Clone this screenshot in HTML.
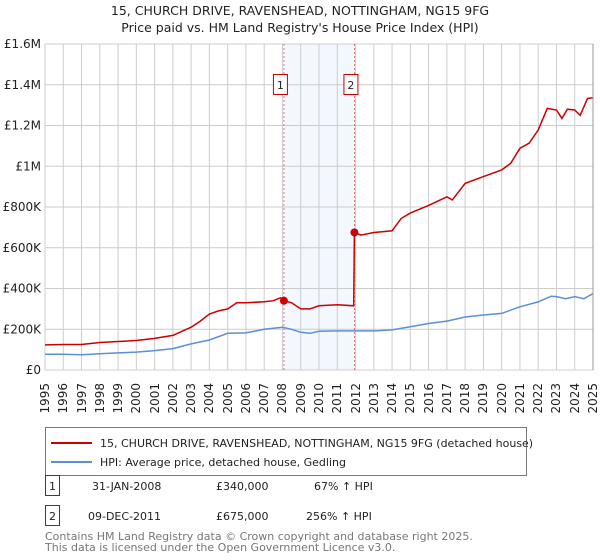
<!DOCTYPE html>
<html><head><meta charset="utf-8"><style>
body{margin:0;background:#fff;font-family:"Liberation Sans","DejaVu Sans",sans-serif;position:relative;width:600px;height:560px;overflow:hidden;}
svg text{font-family:"DejaVu Sans","Liberation Sans",sans-serif;}
.xl{position:absolute;top:383px;width:40px;height:14px;font:12px "DejaVu Sans","Liberation Sans",sans-serif;color:#222;line-height:14px;text-align:right;transform-origin:0 0;white-space:nowrap;}
</style></head><body>
<svg id="c" width="600" height="560" xmlns="http://www.w3.org/2000/svg" style="position:absolute;left:0;top:0">
<text x="300" y="15" text-anchor="middle" font-size="12.5" fill="#222">15, CHURCH DRIVE, RAVENSHEAD, NOTTINGHAM, NG15 9FG</text>
<text x="300" y="32" text-anchor="middle" font-size="12.5" fill="#222">Price paid vs. HM Land Registry's House Price Index (HPI)</text>
<g id="grid"></g><g id="marks"></g>
<g>
<rect x="45.5" y="427.5" width="481" height="48" fill="#fff" stroke="#777"/>
<line x1="51" y1="443" x2="92" y2="443" stroke="#cc0000" stroke-width="2"/>
<text x="100" y="447" font-size="11" fill="#222">15, CHURCH DRIVE, RAVENSHEAD, NOTTINGHAM, NG15 9FG (detached house)</text>
<line x1="51" y1="462" x2="92" y2="462" stroke="#5b8fd6" stroke-width="2"/>
<text x="100" y="466" font-size="11" fill="#222">HPI: Average price, detached house, Gedling</text>
</g>
<g font-size="11" fill="#222">
<rect x="45.5" y="475.5" width="14" height="20" fill="#fff" stroke="#cc0000"/>
<text x="52.5" y="490" text-anchor="middle">1</text>
<text x="92" y="490">31-JAN-2008</text><text x="216" y="490">£340,000</text><text x="314" y="490">67% ↑ HPI</text>
<rect x="45.5" y="505.5" width="14" height="20" fill="#fff" stroke="#cc0000"/>
<text x="52.5" y="520" text-anchor="middle">2</text>
<text x="88" y="520">09-DEC-2011</text><text x="216" y="520">£675,000</text><text x="306" y="520">256% ↑ HPI</text>
</g>
<text x="45" y="540" font-size="11" fill="#777">Contains HM Land Registry data © Crown copyright and database right 2025.</text>
<text x="45" y="551" font-size="11" fill="#777">This data is licensed under the Open Government Licence v3.0.</text>
</svg>
<div id="xlabels"></div>
<script>
const yTicks=[0,200000,400000,600000,800000,1000000,1200000,1400000,1600000];
const yTickLabels=["£0","£200K","£400K","£600K","£800K","£1M","£1.2M","£1.4M","£1.6M"];
const years=[1995,1996,1997,1998,1999,2000,2001,2002,2003,2004,2005,2006,2007,2008,2009,2010,2011,2012,2013,2014,2015,2016,2017,2018,2019,2020,2021,2022,2023,2024,2025];
const hpiX=[1995,1996,1997,1998,1999,2000,2001,2002,2003,2004,2005,2006,2007,2007.5,2008,2008.5,2009,2009.5,2010,2011,2012,2013,2014,2015,2016,2017,2018,2019,2020,2021,2022,2022.7,2023,2023.5,2024,2024.5,2025];
const hpiY=[77000,77000,75000,80000,84000,88000,95000,105000,128000,147000,180000,182000,200000,205000,210000,200000,185000,180000,190000,192000,192000,192000,197000,212000,228000,240000,260000,270000,278000,310000,334000,362000,360000,350000,360000,350000,375000];
const propX=[1995,1996,1997,1998,1999,2000,2001,2002,2003,2003.5,2004,2004.5,2005,2005.5,2006,2007,2007.5,2007.9,2008.08,2008.5,2009,2009.5,2010,2011,2011.9,2011.94,2012.3,2013,2014,2014.5,2015,2016,2017,2017.3,2018,2019,2020,2020.5,2021,2021.5,2022,2022.5,2023,2023.3,2023.6,2024,2024.3,2024.7,2025];
const propY=[123000,125000,125000,135000,140000,145000,155000,170000,210000,240000,275000,290000,300000,330000,330000,335000,340000,355000,340000,330000,300000,300000,315000,320000,315000,675000,662000,675000,683000,744000,770000,808000,850000,835000,916000,949000,982000,1015000,1088000,1113000,1178000,1284000,1276000,1235000,1280000,1276000,1250000,1333000,1336000];
const saleX=[2008.08,2011.94];
const saleY=[340000,675000];
const saleLabels=["1","2"];
const X0=45,X1=593,Y0=370,Y1=44;
const xs=v=>X0+(v-1995)/30*(X1-X0);
const ys=v=>Y0-v/1600000*(Y0-Y1);
const NS="http://www.w3.org/2000/svg";
const g=document.getElementById('grid'),m=document.getElementById('marks'),xl=document.getElementById('xlabels');
function mk(tag,at,p){const e=document.createElementNS(NS,tag);for(const k in at)e.setAttribute(k,at[k]);p.appendChild(e);return e;}
let sh=mk('rect',{x:xs(saleX[0]),y:Y1,width:xs(saleX[1])-xs(saleX[0]),height:Y0-Y1,fill:'#eef3fd',opacity:0.7},g);


yTicks.forEach((t,i)=>{
 const l=mk('line',{x1:X0,x2:X1,y1:ys(t),y2:ys(t),stroke:'#ccc'},g);
 
 
 const tx=mk('text',{x:X0-4,y:ys(t)+4,'text-anchor':'end','font-size':12,fill:'#222'},g);
 tx.textContent=yTickLabels[i];
 
 
});
years.forEach(y=>{
 const l=mk('line',{x1:xs(y),x2:xs(y),y1:Y1,y2:Y0,stroke:'#ccc'},g);
 
 
 const d=document.createElement('div');
 d.className='xl';
 d.style.left=(xs(y)-7)+'px';
 d.style.top='423px';
 d.style.transform='rotate(-90deg)';
 d.textContent=y;
 
 
 xl.appendChild(d);
});
saleX.forEach((s,i)=>{
 const l=mk('line',{x1:xs(s),x2:xs(s),y1:Y1,y2:Y0,stroke:'#dd5555','stroke-dasharray':'2,2','stroke-width':0.8},m);
 
 
});
const pts=(X,Y)=>X.map((x,i)=>xs(x).toFixed(1)+','+ys(Y[i]).toFixed(1)).join(' ');
const hl=mk('polyline',{points:pts(hpiX,hpiY),fill:'none',stroke:'#5b8fd6','stroke-width':1.5},m);


const pl=mk('polyline',{points:pts(propX,propY),fill:'none',stroke:'#cc0000','stroke-width':1.5},m);


saleX.forEach((s,i)=>{
 const c=mk('circle',{cx:xs(s),cy:ys(saleY[i]),r:4,fill:'#cc0000'},m);
 
 
 const b=mk('rect',{x:xs(s)-10.5,y:74.5,width:14,height:20,fill:'#fff',stroke:'#cc0000'},m);
 
 
 const t=mk('text',{x:xs(s)-3.5,y:89,'text-anchor':'middle','font-size':11,fill:'#222'},m);
 t.textContent=saleLabels[i];
 
 
});
const ax=mk('line',{x1:X1,x2:X1,y1:Y1,y2:Y0,stroke:'#999'},m);


</script>
</body></html>
